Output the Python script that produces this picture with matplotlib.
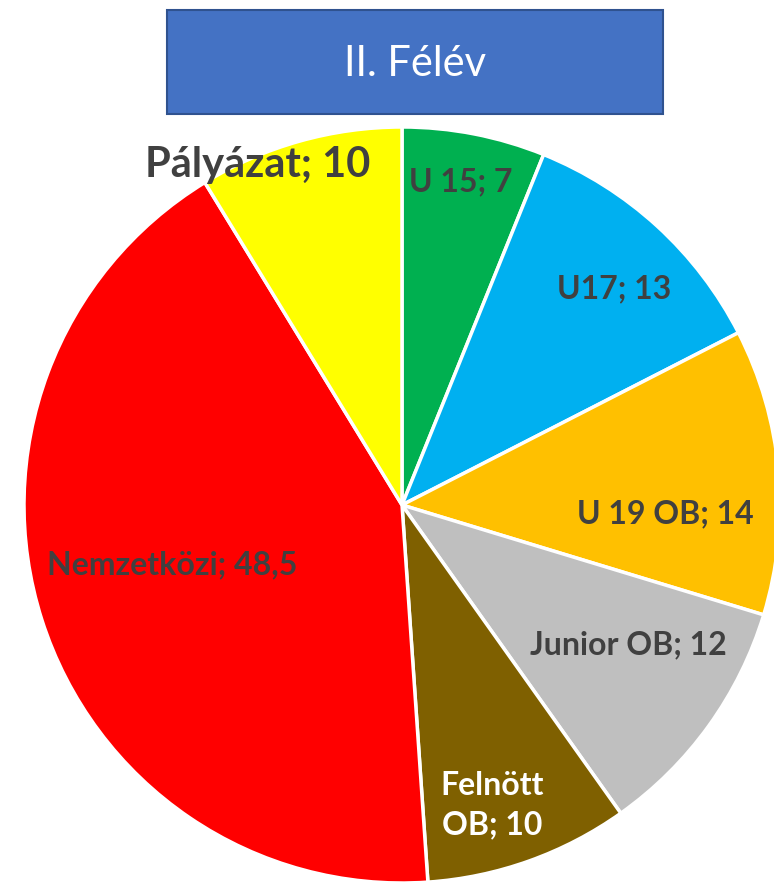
import matplotlib
matplotlib.use("Agg")
import matplotlib.pyplot as plt
from matplotlib.patches import Rectangle

categories = ["U 15", "U17", "U 19 OB", "Junior OB", "Felnött OB", "Nemzetközi", "Pályázat"]
values = [7, 13, 14, 12, 10, 48.5, 10]
value_labels = ["7", "13", "14", "12", "10", "48,5", "10"]
colors = ["#00B050", "#00B0F0", "#FFC000", "#BFBFBF", "#7F6000", "#FF0000", "#FFFF00"]
title = "II. Félév"

# label display settings (position in pie-radius units, style)
label_texts = ["U 15; 7", "U17; 13", "U 19 OB; 14", "Junior OB; 12", "Felnött\nOB; 10",
               "Nemzetközi; 48,5", "Pályázat; 10"]
label_pos = [(0.156, 0.855), (0.561, 0.571), (0.696, -0.024), (0.60, -0.37),
             (0.238, -0.794), (-0.608, -0.159), (-0.381, 0.899)]
label_colors = ["#404040", "#404040", "#404040", "#404040", "white", "#404040", "#404040"]
label_sizes = [23, 23, 23, 23, 23, 23, 30]

plt.rcParams['font.family'] = ['Lato', 'DejaVu Sans']

W, H = 774, 883
fig = plt.figure(figsize=(W / 100, H / 100), dpi=100)
cx, cy, R = 402, 505, 378
ax = fig.add_axes([(cx - R) / W, (H - cy - R) / H, 2 * R / W, 2 * R / H])
ax.pie(values, colors=colors, startangle=90, counterclock=False, radius=1,
       wedgeprops=dict(edgecolor="white", linewidth=2.5))
ax.set_xlim(-1, 1)
ax.set_ylim(-1, 1)
ax.set_aspect("equal")
ax.axis("off")
for t, (x, y), c, s in zip(label_texts, label_pos, label_colors, label_sizes):
    ax.text(x, y, t, ha="center", va="center", color=c, fontsize=s, fontweight="bold",
            linespacing=1.45, clip_on=False)

# title box
bx0, by0, bx1, by1 = 167, 10, 663, 114
fig.patches.append(Rectangle((bx0 / W, 1 - by1 / H), (bx1 - bx0) / W, (by1 - by0) / H,
                             transform=fig.transFigure, facecolor="#4472C4",
                             edgecolor="#2F528F", linewidth=1.5))
fig.text((bx0 + bx1) / 2 / W, 1 - (by0 + by1 + 4) / 2 / H, title, ha="center", va="center",
         color="white", fontsize=30, fontweight="normal")

fig.savefig("out.png", dpi=100)
